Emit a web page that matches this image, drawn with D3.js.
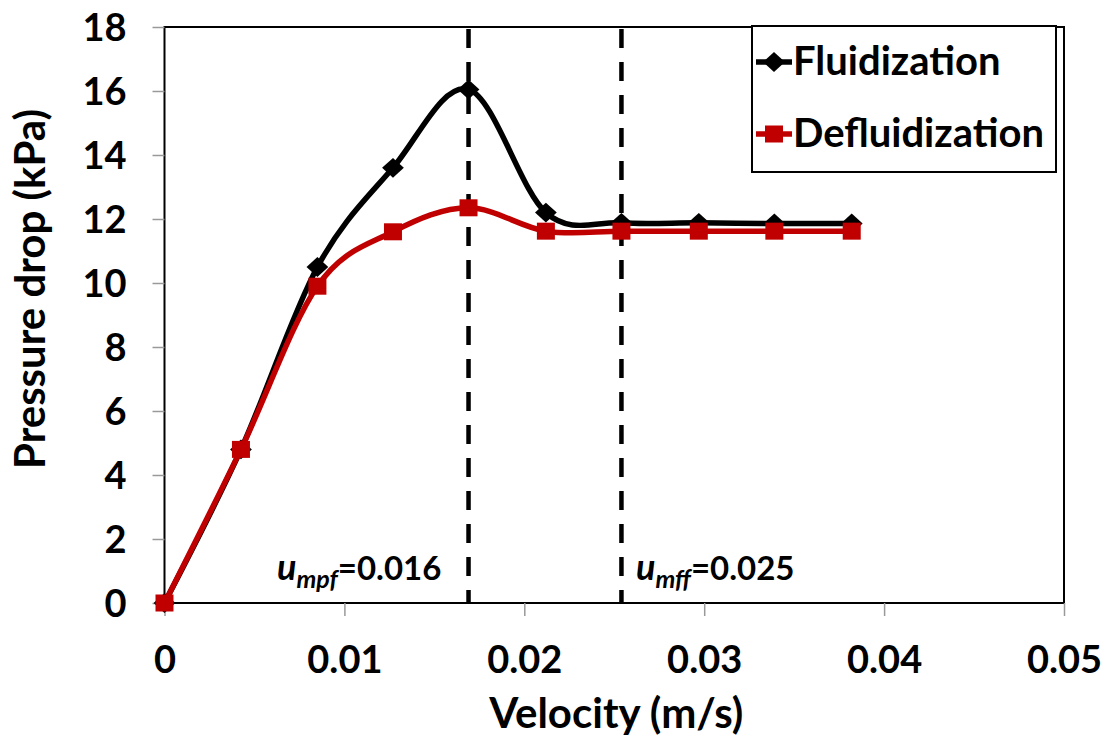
<!DOCTYPE html>
<html>
<head>
<meta charset="utf-8">
<script src="https://cdn.jsdelivr.net/npm/d3@7"></script>
<style>
  html, body { margin: 0; padding: 0; background: #fff; }
  svg { display: block; }
  text { font-family: Lato, "Open Sans", sans-serif; font-weight: bold; fill: #000; }
</style>
</head>
<body>
<svg id="chart" width="1108" height="742"></svg>
<script>
// Superficial gas velocity (m/s) at each measurement
const velocity = [0, 0.00425, 0.0085, 0.0127, 0.0169, 0.0212, 0.0254, 0.0297, 0.0339, 0.0382];
// Bed pressure drop (kPa) while increasing the gas flow
const fluidization = [0, 4.8, 10.5, 13.6, 16.05, 12.2, 11.88, 11.88, 11.86, 11.86];
// Bed pressure drop (kPa) while decreasing the gas flow
const defluidization = [0, 4.8, 9.9, 11.6, 12.35, 11.62, 11.62, 11.62, 11.62, 11.62];

const xTicks = [0, 0.01, 0.02, 0.03, 0.04, 0.05];
const xTickLabels = ["0", "0.01", "0.02", "0.03", "0.04", "0.05"];
const yTicks = [0, 2, 4, 6, 8, 10, 12, 14, 16, 18];

// Characteristic velocities: minimum partial / full fluidization
const markerVelocities = [0.0169, 0.0254];
const markerLabels = [{sub: "mpf", value: "=0.016"}, {sub: "mff", value: "=0.025"}];

const svg = d3.select("#chart");
const plotLeft = 164.5, plotRight = 1064, plotTop = 27, plotBottom = 603;

const x = d3.scaleLinear().domain([0, 0.05]).range([plotLeft, plotRight]);
const y = d3.scaleLinear().domain([0, 18]).range([plotBottom, plotTop]);

// Plot frame
svg.append("rect")
  .attr("x", plotLeft).attr("y", plotTop)
  .attr("width", plotRight - plotLeft).attr("height", plotBottom - plotTop)
  .attr("fill", "none").attr("stroke", "#000").attr("stroke-width", 2);

// Y axis ticks and labels
const yAxis = svg.append("g").attr("transform", `translate(${plotLeft},0)`)
  .call(d3.axisLeft(y).tickValues(yTicks).tickSize(12).tickPadding(26).tickFormat(d3.format("d")));
yAxis.select(".domain").remove();
yAxis.selectAll("line").attr("stroke", "#999").attr("stroke-width", 1.5);
yAxis.selectAll("text").attr("font-size", 38).attr("dy", "0.36em");

// X axis ticks and labels
const xAxis = svg.append("g").attr("transform", `translate(0,${plotBottom})`)
  .call(d3.axisBottom(x).tickValues(xTicks).tickSize(13).tickPadding(30)
    .tickFormat((d, i) => xTickLabels[i]));
xAxis.select(".domain").remove();
xAxis.selectAll("line").attr("stroke", "#999").attr("stroke-width", 1.5);
xAxis.selectAll("text").attr("font-size", 38);

// Axis titles
svg.append("text")
  .attr("x", (plotLeft + plotRight) / 2 + 2).attr("y", 728)
  .attr("text-anchor", "middle").attr("font-size", 42)
  .text("Velocity (m/s)");
svg.append("text")
  .attr("transform", `translate(45,${(plotTop + plotBottom) / 2 - 26}) rotate(-90)`)
  .attr("text-anchor", "middle").attr("font-size", 42)
  .text("Pressure drop (kPa)");

// Dashed reference lines
svg.selectAll("line.ref").data(markerVelocities).enter().append("line")
  .attr("class", "ref")
  .attr("x1", d => x(d)).attr("x2", d => x(d))
  .attr("y1", plotTop + 2).attr("y2", plotBottom)
  .attr("stroke", "#000").attr("stroke-width", 4.5)
  .attr("stroke-dasharray", "19,14");

// Annotations for the characteristic velocities
const ann = svg.selectAll("text.ann").data(markerLabels).enter().append("text")
  .attr("class", "ann")
  .attr("x", (d, i) => i === 0 ? 277 : 636)
  .attr("y", 580)
  .attr("font-size", 33);
ann.append("tspan").attr("font-style", "italic").attr("font-size", 36).text("u");
ann.append("tspan").attr("font-style", "italic").attr("font-size", 25).attr("dy", 8).text(d => d.sub);
ann.append("tspan").attr("dy", -8).text(d => d.value);

const curve = d3.line()
  .x(d => x(d[0])).y(d => y(d[1]))
  .curve(d3.curveCardinal.tension(0));

const fluidPts = velocity.map((v, i) => [v, fluidization[i]]);
const defluidPts = velocity.map((v, i) => [v, defluidization[i]]);

// Fluidization curve with diamond markers
svg.append("path").datum(fluidPts)
  .attr("d", curve).attr("fill", "none")
  .attr("stroke", "#000").attr("stroke-width", 5.5);
svg.selectAll("path.diamond").data(fluidPts).enter().append("path")
  .attr("class", "diamond")
  .attr("d", d3.symbol().type(d3.symbolDiamond2).size(250))
  .attr("transform", d => `translate(${x(d[0])},${y(d[1])}) scale(1.1,1)`)
  .attr("fill", "#000");

// Defluidization curve with square markers
svg.append("path").datum(defluidPts)
  .attr("d", curve).attr("fill", "none")
  .attr("stroke", "#c00000").attr("stroke-width", 5.5);
svg.selectAll("rect.square").data(defluidPts).enter().append("rect")
  .attr("class", "square")
  .attr("x", d => x(d[0]) - 9).attr("y", d => y(d[1]) - 8.5)
  .attr("width", 18).attr("height", 17)
  .attr("fill", "#c00000");

// Legend
const legend = svg.append("g");
legend.append("rect")
  .attr("x", 752).attr("y", 26).attr("width", 304).attr("height", 146)
  .attr("fill", "#fff").attr("stroke", "#000").attr("stroke-width", 2);
const legendItems = [
  {name: "Fluidization", color: "#000", shape: "diamond", cy: 62},
  {name: "Defluidization", color: "#c00000", shape: "square", cy: 134}
];
legendItems.forEach(it => {
  legend.append("line")
    .attr("x1", 756).attr("x2", 792).attr("y1", it.cy).attr("y2", it.cy)
    .attr("stroke", it.color).attr("stroke-width", 5.5);
  if (it.shape === "diamond") {
    legend.append("path")
      .attr("d", d3.symbol().type(d3.symbolDiamond2).size(250))
      .attr("transform", `translate(774,${it.cy}) scale(1.1,1)`)
      .attr("fill", it.color);
  } else {
    legend.append("rect")
      .attr("x", 765).attr("y", it.cy - 8.5).attr("width", 18).attr("height", 17)
      .attr("fill", it.color);
  }
  legend.append("text")
    .attr("x", 793).attr("y", it.cy + 13)
    .attr("font-size", 40)
    .text(it.name);
});
// Right frame edge continues past the legend
svg.append("line")
  .attr("x1", plotRight).attr("x2", plotRight).attr("y1", plotTop).attr("y2", plotBottom)
  .attr("stroke", "#000").attr("stroke-width", 2);
</script>
</body>
</html>
